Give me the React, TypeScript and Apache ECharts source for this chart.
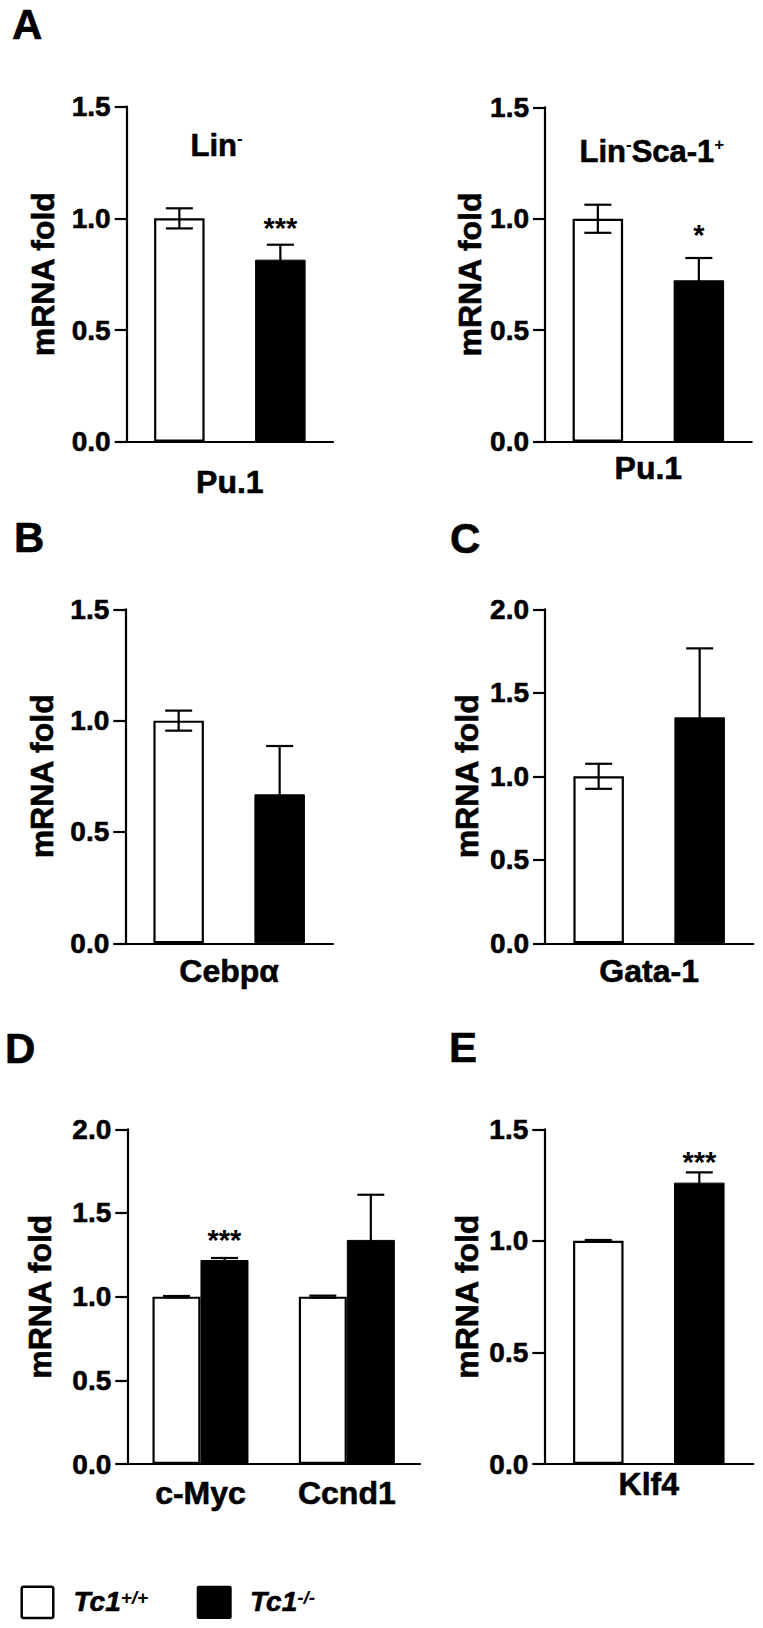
import React, { useEffect, useRef } from "react";
import * as echarts from "echarts";

// ---------- DATA ----------
// Panel A (left): Lin-
const linCategories = ["Pu.1"];
const linWt = [1.0];
const linWtErr = [0.045];
const linKo = [0.815];
const linKoErr = [0.067];
const linSig = ["***"];

// Panel A (right): Lin-Sca-1+
const lsCategories = ["Pu.1"];
const lsWt = [1.0];
const lsWtErr = [0.063];
const lsKo = [0.724];
const lsKoErr = [0.1];
const lsSig = ["*"];

// Panel B
const cebpCategories = ["Cebpα"];
const cebpWt = [1.0];
const cebpWtErr = [0.045];
const cebpKo = [0.669];
const cebpKoErr = [0.217];
const cebpSig = [""];

// Panel C
const gataCategories = ["Gata-1"];
const gataWt = [1.0];
const gataWtErr = [0.075];
const gataKo = [1.353];
const gataKoErr = [0.413];
const gataSig = [""];

// Panel D
const dCategories = ["c-Myc", "Ccnd1"];
const dWt = [1.0, 1.0];
const dWtErr = [0.004, 0.006];
const dKo = [1.219, 1.339];
const dKoErr = [0.012, 0.27];
const dSig = ["***", ""];

// Panel E
const klfCategories = ["Klf4"];
const klfWt = [1.0];
const klfWtErr = [0.004];
const klfKo = [1.261];
const klfKoErr = [0.046];
const klfSig = ["***"];

const yMaxes = [1.5, 1.5, 1.5, 2.0, 2.0, 1.5];
const yAxisTitle = "mRNA fold";
const seriesNames = ["Tc1+/+", "Tc1-/-"];
const legendBase = ["Tc1", "Tc1"];
const legendSup = ["+/+", "-/-"];
const panelLetters = ["A", "B", "C", "D", "E"];

// ---------- LAYOUT ----------
const FONT = "'Liberation Sans', Arial, Helvetica, sans-serif";
const CAP = 27;
const HEAVY = { textBorderColor: "#000", textBorderWidth: 0.6 };
const HEAVY_G = { stroke: "#000", lineWidth: 0.6 };

const layouts = [
  { left: 126.7, top: 106.7, width: 206.3, height: 335, barWidth: 50.5, gap: 1, labelMargin: 24, nameGap: 68, starGap: 17 },
  { left: 545, top: 107.3, width: 206.7, height: 334.4, barWidth: 50.5, gap: 1, labelMargin: 10, nameGap: 59.5, starGap: 23 },
  { left: 125.3, top: 609.3, width: 207.7, height: 334, barWidth: 50.5, gap: 1, labelMargin: 12, nameGap: 67.5, starGap: 0 },
  { left: 545, top: 609.3, width: 208.3, height: 334, barWidth: 50.5, gap: 1, labelMargin: 12, nameGap: 62, starGap: 0 },
  { left: 127.3, top: 1129.3, width: 292.7, height: 334.7, barWidth: 48, gap: 0, labelMargin: 13, nameGap: 71, starGap: 17.5 },
  { left: 544.3, top: 1129.3, width: 209, height: 334.7, barWidth: 50.5, gap: 1, labelMargin: 3.5, nameGap: 61.5, starGap: 10.5 },
];

const panelData = [
  { cats: linCategories, wt: linWt, wtErr: linWtErr, ko: linKo, koErr: linKoErr, sig: linSig },
  { cats: lsCategories, wt: lsWt, wtErr: lsWtErr, ko: lsKo, koErr: lsKoErr, sig: lsSig },
  { cats: cebpCategories, wt: cebpWt, wtErr: cebpWtErr, ko: cebpKo, koErr: cebpKoErr, sig: cebpSig },
  { cats: gataCategories, wt: gataWt, wtErr: gataWtErr, ko: gataKo, koErr: gataKoErr, sig: gataSig },
  { cats: dCategories, wt: dWt, wtErr: dWtErr, ko: dKo, koErr: dKoErr, sig: dSig },
  { cats: klfCategories, wt: klfWt, wtErr: klfWtErr, ko: klfKo, koErr: klfKoErr, sig: klfSig },
];

function errSeries(i: number, vals: number[], errs: number[], offset: number, sig: string[] | null, starGap: number) {
  return {
    type: "custom",
    xAxisIndex: i,
    yAxisIndex: i,
    z: 5,
    silent: true,
    data: vals.map((v, k) => [k, v, errs[k]]),
    encode: { x: 0, y: 1 },
    renderItem: (params: any, api: any) => {
      const k = api.value(0);
      const v = api.value(1);
      const e = api.value(2);
      const c = api.coord([k, v]);
      const hi = api.coord([k, v + e]);
      const lo = api.coord([k, v - e]);
      const x = c[0] + offset;
      const hw = CAP / 2;
      const ls = { stroke: "#000", lineWidth: 2.2 };
      const children: any[] = [
        { type: "line", shape: { x1: x, y1: hi[1], x2: x, y2: lo[1] }, style: ls },
        { type: "line", shape: { x1: x - hw, y1: hi[1], x2: x + hw, y2: hi[1] }, style: ls },
        { type: "line", shape: { x1: x - hw, y1: lo[1], x2: x + hw, y2: lo[1] }, style: ls },
      ];
      const s = sig ? sig[params.dataIndex] : "";
      if (s) {
        children.push({
          type: "text",
          x: x,
          y: hi[1] - starGap,
          style: {
            text: s,
            align: "center",
            verticalAlign: "middle",
            fontSize: 29,
            fontWeight: "bold",
            fontFamily: FONT,
            fill: "#000",
          },
        });
      }
      return { type: "group", children };
    },
  };
}

function buildOption() {
  const grid: any[] = [];
  const xAxis: any[] = [];
  const yAxis: any[] = [];
  const series: any[] = [];
  panelData.forEach((p, i) => {
    const L = layouts[i];
    grid.push({ left: L.left, top: L.top, width: L.width, height: L.height });
    xAxis.push({
      type: "category",
      gridIndex: i,
      data: p.cats,
      axisTick: { show: false },
      axisLine: { lineStyle: { color: "#000", width: 2.2 } },
      axisLabel: { color: "#000", fontSize: 32, fontWeight: "bold", fontFamily: FONT, margin: L.labelMargin, interval: 0, ...HEAVY },
      splitLine: { show: false },
    });
    yAxis.push({
      type: "value",
      gridIndex: i,
      min: 0,
      max: yMaxes[i],
      interval: 0.5,
      name: yAxisTitle,
      nameLocation: "middle",
      nameRotate: 90,
      nameGap: L.nameGap,
      nameTextStyle: { color: "#000", fontSize: 32, fontWeight: "bold", fontFamily: FONT, ...HEAVY },
      axisLine: { show: true, lineStyle: { color: "#000", width: 2.2 } },
      axisTick: { show: true, length: 12, lineStyle: { color: "#000", width: 2.2 } },
      axisLabel: {
        formatter: (v: number) => v.toFixed(1),
        color: "#000",
        fontSize: 28,
        fontWeight: "bold",
        fontFamily: FONT,
        margin: 16,
        ...HEAVY,
      },
      splitLine: { show: false },
    });
    series.push({
      type: "bar",
      name: seriesNames[0],
      xAxisIndex: i,
      yAxisIndex: i,
      data: p.wt,
      barWidth: L.barWidth,
      barGap: L.gap * 100 + "%",
      itemStyle: { color: "#fff", borderColor: "#000", borderWidth: 2.2 },
      z: 2,
    });
    series.push({
      type: "bar",
      name: seriesNames[1],
      xAxisIndex: i,
      yAxisIndex: i,
      data: p.ko,
      barWidth: L.barWidth,
      barGap: L.gap * 100 + "%",
      itemStyle: { color: "#000", borderColor: "#000", borderWidth: 1 },
      z: 2,
    });
    const off = (L.barWidth * (1 + L.gap)) / 2;
    series.push(errSeries(i, p.wt, p.wtErr, -off, null, 0));
    series.push(errSeries(i, p.ko, p.koErr, off, p.sig, L.starGap));
  });

  const letterPos = [
    [12, 24],
    [14, 537],
    [450, 538],
    [5, 1048],
    [449, 1047],
  ];
  const graphic: any[] = [];
  panelLetters.forEach((t, k) => {
    graphic.push({
      type: "text",
      x: letterPos[k][0],
      y: letterPos[k][1],
      style: { text: t, fontSize: 42, fontWeight: "bold", fontFamily: FONT, fill: "#000", align: "left", verticalAlign: "middle", ...HEAVY_G },
    });
  });
  const richTitle = {
    m: { fontSize: 31, fontWeight: "bold", fontFamily: FONT, fill: "#000", ...HEAVY_G },
    s: { fontSize: 17, fontWeight: "bold", fontFamily: FONT, fill: "#000", verticalAlign: "top" },
  };
  graphic.push({
    type: "text",
    x: 190.5,
    y: 145.5,
    style: { text: "{m|Lin}{s|-}", rich: richTitle, align: "left", verticalAlign: "middle" },
  });
  graphic.push({
    type: "text",
    x: 579.5,
    y: 151,
    style: { text: "{m|Lin}{s|-}{m|Sca-1}{s|+}", rich: richTitle, align: "left", verticalAlign: "middle" },
  });
  // legend
  graphic.push({
    type: "rect",
    shape: { x: 21.7, y: 1586.7, width: 31.6, height: 31.3, r: 2 },
    style: { fill: "#fff", stroke: "#000", lineWidth: 2.5 },
  });
  graphic.push({
    type: "rect",
    shape: { x: 196.7, y: 1585.7, width: 35, height: 33.3, r: 2 },
    style: { fill: "#000", stroke: "#000", lineWidth: 0 },
  });
  const richLegend = {
    m: { fontSize: 28, fontWeight: "bold", fontStyle: "italic", fontFamily: FONT, fill: "#000", ...HEAVY_G },
    s: { fontSize: 19, fontWeight: "bold", fontStyle: "italic", fontFamily: FONT, fill: "#000", verticalAlign: "top" },
  };
  const legendX = [73.5, 250];
  legendBase.forEach((b, k) => {
    graphic.push({
      type: "text",
      x: legendX[k],
      y: 1601.7,
      style: { text: "{m|" + b + "}{s|" + legendSup[k] + "}", rich: richLegend, align: "left", verticalAlign: "middle" },
    });
  });

  return {
    animation: false,
    backgroundColor: "#fff",
    grid,
    xAxis,
    yAxis,
    series,
    graphic,
  };
}

export default function App() {
  const ref = useRef<HTMLDivElement>(null);
  useEffect(() => {
    const chart = echarts.init(ref.current!, null, { renderer: "svg" });
    chart.setOption(buildOption() as any);
    return () => chart.dispose();
  }, []);
  return (
    <div
      ref={ref}
      style={{ position: "absolute", left: 0, top: 0, width: 763, height: 1628, background: "#fff" }}
    />
  );
}
